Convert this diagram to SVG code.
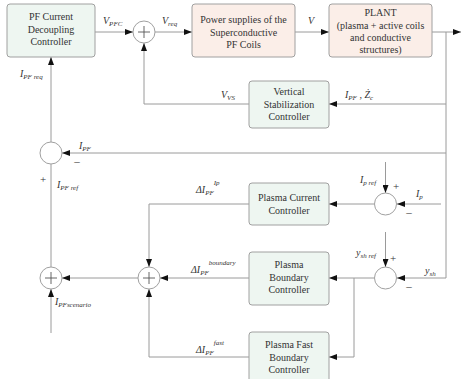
<svg xmlns="http://www.w3.org/2000/svg" width="461" height="379" viewBox="0 0 461 379">
<style>
.g{fill:#eef6f1;stroke:#a0a0a0;stroke-width:1}
.p{fill:#fbeee8;stroke:#a0a0a0;stroke-width:1}
.c{fill:#fff;stroke:#a0a0a0;stroke-width:1}
.l{fill:none;stroke:#9a9a9a;stroke-width:1}
.k{fill:none;stroke:#555;stroke-width:0.9}
text{font-family:'Liberation Serif',serif}
.t{font-size:10px;fill:#333;text-anchor:middle}
.m{font-size:10px;fill:#333;font-style:italic}
.s{font-size:7px}
.sg{font-size:11px;fill:#333;text-anchor:middle}
</style>
<defs>
<marker id="a" viewBox="0 0 8 6" refX="8" refY="3" markerWidth="8" markerHeight="6" orient="auto" markerUnits="userSpaceOnUse">
<path d="M0,0 L8,3 L0,6 Z" fill="#111"/>
</marker>
</defs>
<g id="connectors">
<path class="l" d="M95,32 H133" marker-end="url(#a)"/>
<path class="l" d="M155,32 H192" marker-end="url(#a)"/>
<path class="l" d="M295,32 H329" marker-end="url(#a)"/>
<path class="l" d="M432,32 H461" marker-end="url(#a)"/>
<path class="l" d="M446,32 V278"/>
<path class="l" d="M446,104 H329" marker-end="url(#a)"/>
<path class="l" d="M249,104 H144 V43" marker-end="url(#a)"/>
<path class="l" d="M446,153 H62" marker-end="url(#a)"/>
<path class="l" d="M51,142 V57" marker-end="url(#a)"/>
<path class="l" d="M51,164 V267"/>
<path class="l" d="M51,333 V289" marker-end="url(#a)"/>
<path class="l" d="M441,204 H397" marker-end="url(#a)"/>
<path class="l" d="M385.5,162 V193" marker-end="url(#a)"/>
<path class="l" d="M374,204 H329" marker-end="url(#a)"/>
<path class="l" d="M249,204 H149 V267" marker-end="url(#a)"/>
<path class="l" d="M138,278 H62" marker-end="url(#a)"/>
<path class="l" d="M446,278 H397" marker-end="url(#a)"/>
<path class="l" d="M385.5,232 V267" marker-end="url(#a)"/>
<path class="l" d="M374,278 H329" marker-end="url(#a)"/>
<path class="l" d="M354,278 V357 H329" marker-end="url(#a)"/>
<path class="l" d="M249,278 H160" marker-end="url(#a)"/>
<path class="l" d="M249,357 H149 V289" marker-end="url(#a)"/>
</g>
<g id="pfcdc">
<rect class="g" x="7" y="4" width="88" height="53" rx="3"/>
<text class="t" x="51" y="20">PF Current</text>
<text class="t" x="51" y="32.5">Decoupling</text>
<text class="t" x="51" y="45">Controller</text>
</g>
<g id="psu">
<rect class="p" x="192" y="4" width="103" height="53" rx="3"/>
<text class="t" x="243.5" y="23">Power supplies of the</text>
<text class="t" x="243.5" y="35.5">Superconductive</text>
<text class="t" x="243.5" y="48">PF Coils</text>
</g>
<g id="plant">
<rect class="p" x="329" y="4" width="103" height="53" rx="3"/>
<text class="t" x="380.5" y="16">PLANT</text>
<text class="t" x="380.5" y="28.5">(plasma + active coils</text>
<text class="t" x="380.5" y="41">and conductive</text>
<text class="t" x="380.5" y="53">structures)</text>
</g>
<g id="vsc">
<rect class="g" x="249" y="81" width="80" height="47" rx="3"/>
<text class="t" x="289" y="95">Vertical</text>
<text class="t" x="289" y="107.5">Stabilization</text>
<text class="t" x="289" y="120">Controller</text>
</g>
<g id="pcc">
<rect class="g" x="249" y="183" width="80" height="42" rx="3"/>
<text class="t" x="289" y="201">Plasma Current</text>
<text class="t" x="289" y="213.5">Controller</text>
</g>
<g id="pbc">
<rect class="g" x="249" y="252" width="80" height="53" rx="3"/>
<text class="t" x="289" y="268">Plasma</text>
<text class="t" x="289" y="280.5">Boundary</text>
<text class="t" x="289" y="293">Controller</text>
</g>
<g id="pfbc">
<rect class="g" x="249" y="332" width="80" height="53" rx="3"/>
<text class="t" x="289" y="348">Plasma Fast</text>
<text class="t" x="289" y="360.5">Boundary</text>
<text class="t" x="289" y="373">Controller</text>
</g>
<g id="sum1">
<circle class="c" cx="144" cy="32" r="11"/>
<path class="k" d="M138,32 H150 M144,26 V38"/>
</g>
<g id="sum2">
<circle class="c" cx="51" cy="153" r="11"/>
</g>
<g id="sum3">
<circle class="c" cx="51" cy="278" r="11"/>
<path class="k" d="M45,278 H57 M51,272 V284"/>
</g>
<g id="sum4">
<circle class="c" cx="149" cy="278" r="11"/>
<path class="k" d="M143,278 H155 M149,272 V284"/>
</g>
<g id="sumIp">
<circle class="c" cx="385.5" cy="204" r="11"/>
</g>
<g id="sumYsh">
<circle class="c" cx="385.5" cy="278" r="11"/>
</g>
<g id="labels">
<text class="m" x="103" y="24">V<tspan class="s" dy="2">PFC</tspan></text>
<text class="m" x="162" y="24">V<tspan class="s" dy="2">req</tspan></text>
<text class="m" x="308" y="24">V</text>
<text class="m" x="221" y="98">V<tspan class="s" dy="2">VS</tspan></text>
<text class="m" x="345" y="98">I<tspan class="s" dy="2">PF</tspan><tspan dy="-2"> , Ż</tspan><tspan class="s" dy="2">c</tspan></text>
<text class="m" x="20" y="77">I<tspan class="s" dy="2">PF req</tspan></text>
<text class="m" x="79" y="149">I<tspan class="s" dy="2">PF</tspan></text>
<text class="sg" x="77" y="165">–</text>
<text class="sg" x="43" y="183">+</text>
<text class="m" x="57" y="188">I<tspan class="s" dy="2">PF ref</tspan></text>
<text class="m" x="196" y="193">ΔI<tspan class="s" dy="2">PF</tspan><tspan class="s" dy="-10">Ip</tspan></text>
<text class="m" x="191" y="273">ΔI<tspan class="s" dy="2">PF</tspan><tspan class="s" dy="-10">boundary</tspan></text>
<text class="m" x="196" y="353">ΔI<tspan class="s" dy="2">PF</tspan><tspan class="s" dy="-10">fast</tspan></text>
<text class="m" x="55" y="305">I<tspan class="s" dy="2">PFscenario</tspan></text>
<text class="m" x="360" y="183">I<tspan class="s" dy="2">p ref</tspan></text>
<text class="sg" x="396" y="190">+</text>
<text class="m" x="416" y="197">I<tspan class="s" dy="2">p</tspan></text>
<text class="sg" x="409" y="216">–</text>
<text class="m" x="356" y="256">y<tspan class="s" dy="2">sh ref</tspan></text>
<text class="sg" x="393" y="262">+</text>
<text class="m" x="425" y="274">y<tspan class="s" dy="2">sh</tspan></text>
<text class="sg" x="409" y="290">–</text>
</g>
</svg>
